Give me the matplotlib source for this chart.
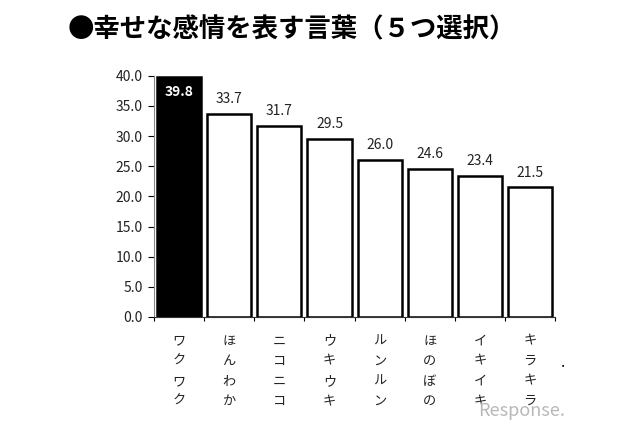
import matplotlib
matplotlib.use("Agg")
import matplotlib.pyplot as plt
import numpy as np

plt.rcParams['font.family'] = ['Noto Sans CJK JP', 'DejaVu Sans']

# data
words = ["ワクワク", "ほんわか", "ニコニコ", "ウキウキ", "ルンルン", "ほのぼの", "イキイキ", "キラキラ"]
values = [39.8, 33.7, 31.7, 29.5, 26.0, 24.6, 23.4, 21.5]
yticks = [0, 5, 10, 15, 20, 25, 30, 35, 40]

fig = plt.figure(figsize=(6.4, 4.26), dpi=100)
ax = fig.add_axes([0.2406, 0.256, 0.627, 0.566])

x = np.arange(len(words))
colors = ["black"] + ["white"] * (len(words) - 1)
ax.bar(x, values, width=0.88, color=colors, edgecolor="black", linewidth=1.8)

# value labels
for i, v in enumerate(values):
    if i == 0:
        ax.text(i, v - 1.3, f"{v:.1f}", ha="center", va="top", color="white",
                fontsize=10, fontweight="bold")
    else:
        ax.text(i, v + 1.3, f"{v:.1f}", ha="center", va="bottom", color="#222222",
                fontsize=10)

ax.set_xlim(-0.5, len(words) - 0.5)
ax.set_ylim(0, 40)
ax.set_yticks(yticks)
ax.set_yticklabels([f"{t:.1f}" for t in yticks], fontsize=10, color="#222222")
ax.tick_params(axis="y", direction="out", length=4, width=0.8, pad=4)

# boundary ticks on the x axis, labels written vertically below
ax.set_xticks(np.arange(len(words) + 1) - 0.5)
ax.set_xticklabels([])
ax.tick_params(axis="x", direction="out", length=3, width=0.8)
for i, w in enumerate(words):
    ax.text(i, -2.9, "\n".join(w), ha="center", va="top", fontsize=9.5,
            color="#222222", linespacing=1.72)

for s in ["top", "right"]:
    ax.spines[s].set_visible(False)
ax.spines["left"].set_color("#888888")
ax.spines["bottom"].set_color("#333333")

fig.text(0.106, 0.93, "●幸せな感情を表す言葉（５つ選択）", fontsize=19,
         fontweight="bold", ha="left", va="center", color="black")

# watermark and stray dot
fig.text(0.815, 0.035, "Response.", fontsize=13, color="#b8b8b8",
         ha="center", va="center")
fig.text(0.88, 0.148, ".", fontsize=11, color="black", ha="center", va="center")

fig.savefig("out.png", dpi=100)
